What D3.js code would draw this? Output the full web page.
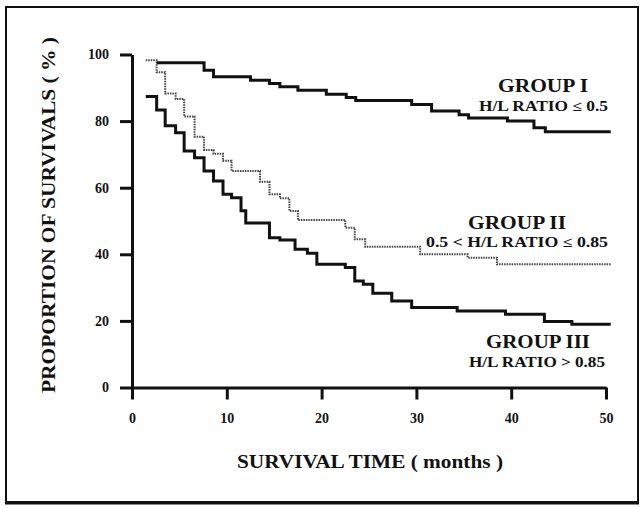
<!DOCTYPE html>
<html>
<head>
<meta charset="utf-8">
<script src="https://cdn.jsdelivr.net/npm/d3@7"></script>
<style>
  body { margin: 0; background: #fff; }
  text { font-family: "Liberation Serif", "Times New Roman", serif; font-weight: bold; fill: #111; }
</style>
</head>
<body>
<svg id="chart" width="642" height="508"></svg>
<script>
// step start times (months) and survival (%)
const groupITimes = [2.6, 7.6, 8.6, 12.5, 14.5, 15.6, 17.5, 20.5, 22.6, 23.6, 29.5, 31.6, 34.5, 35.5, 39.6, 42.4, 43.6];
const groupIValues = [97.5, 95.3, 93.3, 92.3, 91.3, 90.3, 89.3, 88.1, 87.1, 86.2, 85.0, 83.0, 81.9, 80.9, 80.0, 78.0, 76.8];

const groupIITimes = [1.45, 2.6, 3.5, 4.6, 5.5, 6.6, 7.6, 8.6, 9.6, 10.5, 13.5, 14.5, 15.6, 16.6, 17.5, 22.5, 23.5, 24.6, 30.4, 35.4, 38.5];
const groupIIValues = [98.3, 94.7, 88.3, 86.6, 81.4, 75.3, 71.3, 70.2, 68.1, 65.0, 61.8, 58.0, 56.8, 53.0, 50.3, 48.0, 44.5, 42.3, 40.0, 39.0, 37.0];

const groupIIITimes = [1.45, 2.6, 3.5, 4.6, 5.5, 6.6, 7.6, 8.6, 9.6, 10.5, 11.5, 12.0, 14.5, 15.6, 17.2, 18.5, 19.5, 22.5, 23.5, 24.4, 25.4, 27.4, 29.5, 34.3, 39.4, 43.5, 46.4];
const groupIIIValues = [87.4, 83.3, 78.6, 76.5, 71.0, 69.0, 65.0, 62.0, 58.0, 57.0, 53.1, 49.4, 45.0, 44.3, 41.5, 40.3, 37.0, 36.0, 32.0, 31.0, 28.3, 26.0, 24.0, 23.0, 22.0, 19.8, 19.0];

const endTime = 50.5;
const xTicks = [0, 10, 20, 30, 40, 50];
const yTicks = [0, 20, 40, 60, 80, 100];

const svg = d3.select("#chart");

// frame
svg.append("rect")
  .attr("x", 6).attr("y", 7).attr("width", 632).attr("height", 495)
  .attr("fill", "none").attr("stroke", "#111").attr("stroke-width", 2);
svg.append("line")
  .attr("x1", 5).attr("x2", 639).attr("y1", 503).attr("y2", 503)
  .attr("stroke", "#111").attr("stroke-width", 3);

const x = d3.scaleLinear().domain([0, 50]).range([132, 606]);
const y = d3.scaleLinear().domain([0, 100]).range([387.5, 54.5]);

// axes
const xAxis = svg.append("g")
  .attr("transform", `translate(0,${y(0)})`)
  .call(d3.axisBottom(x).tickValues(xTicks).tickSize(12).tickSizeOuter(0).tickPadding(14));
const yAxis = svg.append("g")
  .attr("transform", `translate(${x(0)},0)`)
  .call(d3.axisLeft(y).tickValues(yTicks).tickSize(12).tickSizeOuter(0).tickPadding(11));

[xAxis, yAxis].forEach(g => {
  g.select(".domain").attr("stroke", "#111").attr("stroke-width", 3);
  g.selectAll(".tick line").attr("stroke", "#111").attr("stroke-width", 3);
  g.selectAll(".tick text")
    .style("font-family", '"Liberation Serif", serif')
    .style("font-weight", "bold")
    .style("font-size", "14px")
    .attr("fill", "#111");
});

// survival curves
const line = d3.line()
  .x(d => x(d[0]))
  .y(d => y(d[1]))
  .curve(d3.curveStepAfter);

function steps(times, values) {
  const pts = times.map((t, i) => [t, values[i]]);
  pts.push([endTime, values[values.length - 1]]);
  return pts;
}

svg.append("path")
  .datum(steps(groupIITimes, groupIIValues))
  .attr("d", line)
  .attr("fill", "none")
  .attr("stroke", "#444")
  .attr("stroke-width", 2)
  .attr("stroke-dasharray", "1.5,1");

svg.append("path")
  .datum(steps(groupITimes, groupIValues))
  .attr("d", line)
  .attr("fill", "none")
  .attr("stroke", "#111")
  .attr("stroke-width", 3);

svg.append("path")
  .datum(steps(groupIIITimes, groupIIIValues))
  .attr("d", line)
  .attr("fill", "none")
  .attr("stroke", "#111")
  .attr("stroke-width", 3);

// labels
const labels = [
  { text: "GROUP  I", x: 543, y: 92, size: 18, len: 90 },
  { text: "H/L RATIO ≤ 0.5", x: 543.5, y: 111, size: 14, len: 129 },
  { text: "GROUP  II", x: 517, y: 229, size: 18, len: 98 },
  { text: "0.5 < H/L RATIO ≤ 0.85", x: 517, y: 247, size: 14, len: 182 },
  { text: "GROUP  III", x: 538, y: 348, size: 18, len: 104 },
  { text: "H/L RATIO > 0.85", x: 537, y: 367, size: 14, len: 136 }
];

svg.selectAll(".grp")
  .data(labels)
  .join("text")
  .attr("class", "grp")
  .attr("x", d => d.x)
  .attr("y", d => d.y)
  .attr("text-anchor", "middle")
  .attr("textLength", d => d.len)
  .attr("lengthAdjust", "spacingAndGlyphs")
  .style("font-size", d => d.size + "px")
  .text(d => d.text);

// axis titles
svg.append("text")
  .attr("x", 370).attr("y", 468)
  .attr("text-anchor", "middle")
  .attr("textLength", 266)
  .attr("lengthAdjust", "spacingAndGlyphs")
  .style("font-size", "19px")
  .text("SURVIVAL TIME ( months )");

svg.append("text")
  .attr("transform", "translate(55,215) rotate(-90)")
  .attr("text-anchor", "middle")
  .attr("textLength", 356)
  .attr("lengthAdjust", "spacingAndGlyphs")
  .style("font-size", "19px")
  .text("PROPORTION OF SURVIVALS ( % )");
</script>
</body>
</html>
